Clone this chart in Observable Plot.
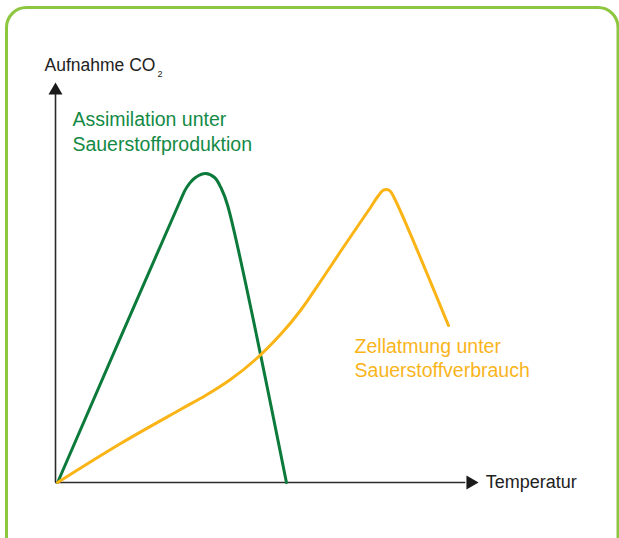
<!DOCTYPE html>
<html>
<head>
<meta charset="utf-8">
<script src="https://cdn.jsdelivr.net/npm/d3@7"></script>
<script src="https://cdn.jsdelivr.net/npm/@observablehq/plot@0.6"></script>
<style>
  html, body { margin: 0; padding: 0; background: #fff; overflow: hidden; }
  #chart svg { display: block; }
</style>
</head>
<body>
<div id="chart"></div>
<script>
// Temperature (arbitrary units 0–100) and CO2 uptake (arbitrary units 0–100)
const assimTemp   = [0.5, 29.1, 31.0, 33.1, 35.5, 37.6, 39.2, 40.7, 54.6];
const assimUptake = [0,   69.5, 73.75, 76.25, 77.25, 76.25, 73.5, 69.25, 0];

const respTemp   = [0.5, 15.4, 29.55, 35.46, 41.37, 47.28, 53.19, 57.92, 62.65, 67.38, 71.39, 74.47, 76.36, 77.54, 78.96, 80.14, 92.9];
const respUptake = [0,   9.75, 18.25, 21.75, 25.75, 30.75, 37,    43,    50.25, 57.75, 64,    68.75, 71.75, 73.1,  73,    71,    39.25];

const yAxisLabel = "Aufnahme CO";
const yAxisSub = "2";
const xAxisLabel = "Temperatur";
const assimLabel = "Assimilation unter\nSauerstoffproduktion";
const respLabel = "Zellatmung unter\nSauerstoffverbrauch";

const assim = assimTemp.map((t, i) => ({t, u: assimUptake[i]}));
const resp = respTemp.map((t, i) => ({t, u: respUptake[i]}));

const GREEN = "#0b7a3b";
const ORANGE = "#fbb415";
const FONT = "'Liberation Sans', Arial, Helvetica, sans-serif";

const chart = Plot.plot({
  width: 619,
  height: 538,
  margin: 0,
  style: {fontFamily: FONT, background: "#fff"},
  x: {domain: [0, 100], range: [55, 478], axis: null},
  y: {domain: [0, 100], range: [482, 82], axis: null},
  marks: [
    Plot.frame({stroke: "#8dc63f", strokeWidth: 3, rx: 20, insetLeft: 6, insetTop: 7, insetRight: 1.5, insetBottom: -40}),
    Plot.ruleX([0], {y1: 0, y2: 97, stroke: "#2b2b2b", strokeWidth: 1.6}),
    Plot.ruleY([0], {x1: 0, x2: 97, stroke: "#2b2b2b", strokeWidth: 1.6}),
    Plot.dot([{t: 0, u: 100}], {x: "t", y: "u", symbol: "triangle", r: 5.2, fill: "#1a1a1a", stroke: null, dy: 8}),
    Plot.dot([{t: 100, u: 0}], {x: "t", y: "u", symbol: "triangle", r: 5.2, fill: "#1a1a1a", stroke: null, dx: -8, rotate: 90}),
    Plot.line(assim, {x: "t", y: "u", stroke: GREEN, strokeWidth: 3, curve: "catmull-rom"}),
    Plot.line(resp, {x: "t", y: "u", stroke: ORANGE, strokeWidth: 3, curve: "catmull-rom"}),
    Plot.text([yAxisLabel], {x: -2.6, y: 103, text: d => d, textAnchor: "start", lineAnchor: "bottom", fontSize: 17.5, fill: "#222"}),
    Plot.text([yAxisSub], {x: -2.6, y: 103, text: d => d, textAnchor: "start", lineAnchor: "bottom", fontSize: 9, fill: "#222", dx: 113, dy: 6}),
    Plot.text([xAxisLabel], {x: 101.7, y: 0, text: d => d, textAnchor: "start", fontSize: 18, fill: "#222"}),
    Plot.text([assimLabel], {x: 4, y: 88, text: d => d, textAnchor: "start", fontSize: 19.5, fill: "#148a46", lineHeight: 1.28}),
    Plot.text([respLabel], {x: 70.7, y: 31.25, text: d => d, textAnchor: "start", fontSize: 19.5, fill: "#f9b41b", lineHeight: 1.23})
  ]
});
document.getElementById("chart").appendChild(chart);
</script>
</body>
</html>
